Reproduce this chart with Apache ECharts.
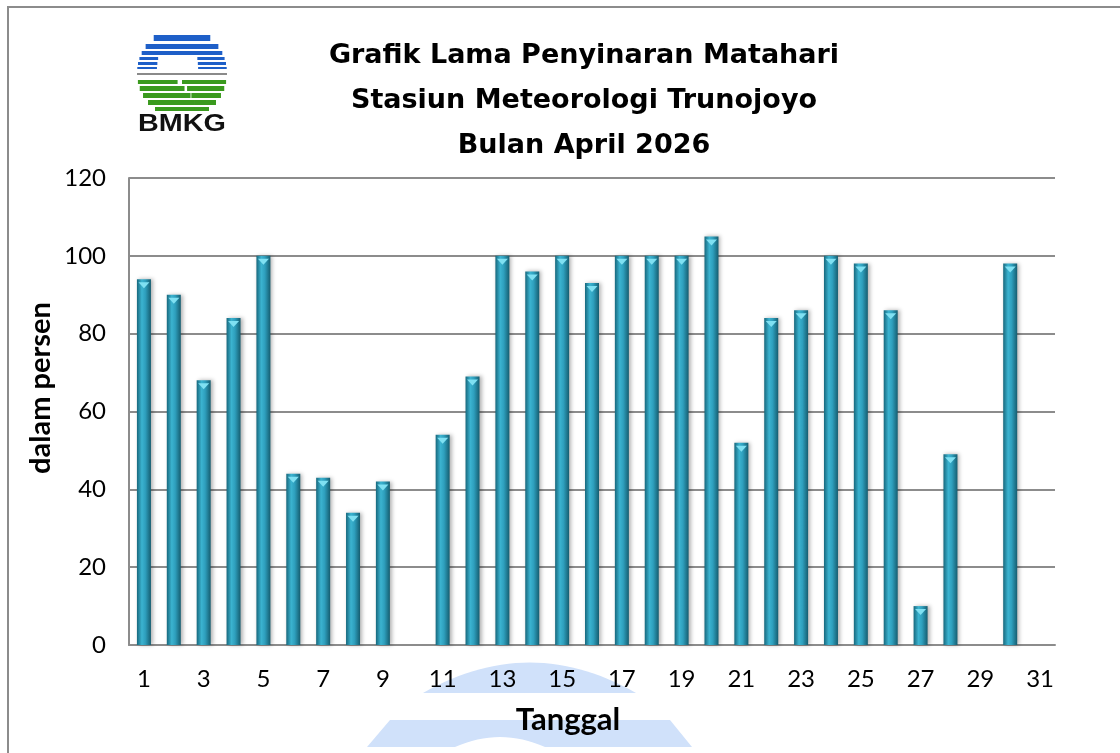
<!DOCTYPE html>
<html>
<head>
<meta charset="utf-8">
<script src="https://cdn.jsdelivr.net/npm/echarts@6/dist/echarts.min.js"></script>
<style>
  html, body { margin: 0; padding: 0; background: #fff; }
  #chart { width: 1120px; height: 753px; }
</style>
</head>
<body>
<div id="chart"></div>
<script>
const days = Array.from({ length: 31 }, (_, i) => String(i + 1));
// lama penyinaran (%) per tanggal, null = tidak ada data
const sunshine = [94, 90, 68, 84, 100, 44, 43, 34, 42, null, 54, 69, 100, 96, 100, 93,
  100, 100, 100, 105, 52, 84, 86, 100, 98, 86, 10, 49, null, 98, null];
const yTicks = [0, 20, 40, 60, 80, 100, 120];
const titleLines = ['Grafik Lama Penyinaran Matahari', 'Stasiun Meteorologi Trunojoyo', 'Bulan April 2026'];

const chart = echarts.init(document.getElementById('chart'));

const barGradient = {
  type: 'linear', x: 0, y: 0, x2: 1, y2: 0,
  colorStops: [
    { offset: 0, color: '#17687d' },
    { offset: 0.35, color: '#3bb3d0' },
    { offset: 0.6, color: '#2e9fbd' },
    { offset: 1, color: '#155d70' },
  ],
};

// logo BMKG: stripes clipped to a circle (chord widths)
const cx = 182, cy = 73, r = 45;
const chord = (y) => {
  const d = Math.abs(y - cy);
  return d >= r ? 0 : 2 * Math.sqrt(r * r - d * d);
};
const logo = [];
[[35, 6], [44, 5], [51, 4]].forEach(([y, h]) => {
  const w = chord(y + h / 2);
  logo.push({ type: 'rect', shape: { x: cx - w / 2, y, width: w, height: h }, style: { fill: '#1e5fc8' } });
});
// lower blue stripes split by cloud
[[57, 3], [62, 3], [67, 2]].forEach(([y, h]) => {
  const w = chord(y + h / 2);
  logo.push({ type: 'rect', shape: { x: cx - w / 2, y, width: w * 0.22, height: h }, style: { fill: '#1e5fc8' } });
  logo.push({ type: 'rect', shape: { x: cx + w / 2 - w * 0.32, y, width: w * 0.32, height: h }, style: { fill: '#1e5fc8' } });
});
logo.push({ type: 'rect', shape: { x: cx - r, y: 73, width: 2 * r, height: 2 }, style: { fill: '#8a8a8a' } });
[[80, 4], [86, 5], [93, 5], [100, 5], [107, 4]].forEach(([y, h], i) => {
  const w = chord(y + h / 2);
  logo.push({ type: 'rect', shape: { x: cx - w / 2, y, width: w * (0.45 + i * 0.08), height: h }, style: { fill: '#3a9a1e' } });
  logo.push({ type: 'rect', shape: { x: cx - w / 2 + w * (0.5 + i * 0.06), y, width: w * (0.5 - i * 0.06), height: h }, style: { fill: '#3a9a1e' } });
});
logo.push({
  type: 'text', x: cx, y: 125, scaleX: 1.25,
  style: { text: 'BMKG', fill: '#111', font: 'bold 23px "Liberation Sans", Arial', textAlign: 'center', textVerticalAlign: 'middle' },
});

// faint watermark shapes at the bottom
const quad = (x0, y0, qx, qy, x1, y1, n) => {
  const pts = [];
  for (let i = 0; i <= n; i++) {
    const t = i / n;
    pts.push([
      (1 - t) * (1 - t) * x0 + 2 * (1 - t) * t * qx + t * t * x1,
      (1 - t) * (1 - t) * y0 + 2 * (1 - t) * t * qy + t * t * y1,
    ]);
  }
  return pts;
};
const watermark = [
  {
    type: 'polygon', z: -1,
    shape: { points: quad(423, 693, 530, 632, 636, 693, 30) },
    style: { fill: '#d0e1fa' },
  },
  {
    type: 'polygon', z: -1,
    shape: { points: [[390, 720], [670, 720], [692, 747], [545, 747], ...quad(545, 747, 500, 727, 455, 747, 16), [367, 747]] },
    style: { fill: '#d0e1fa' },
  },
];

const labelFont = 'Lato, "Open Sans", sans-serif';

chart.setOption({
  backgroundColor: '#fff',
  animation: false,
  graphic: [
    { type: 'rect', shape: { x: 8, y: 7, width: 1130, height: 760 }, style: { fill: 'none', stroke: '#8c8c8c', lineWidth: 2 }, z: -2 },
    ...watermark,
    ...logo,
    ...titleLines.map((t, i) => ({
      type: 'text', x: 584, y: 56 + i * 45,
      style: { text: t, fill: '#000', font: 'bold 27px "Comic Sans MS", "DejaVu Sans", sans-serif', textAlign: 'center', textVerticalAlign: 'middle' },
    })),
    {
      type: 'text', x: 41, y: 388, rotation: Math.PI / 2,
      style: { text: 'dalam persen', fill: '#000', font: 'bold 29px ' + labelFont, textAlign: 'center', textVerticalAlign: 'middle' },
    },
    {
      type: 'text', x: 568, y: 720,
      style: { text: 'Tanggal', fill: '#000', font: 'bold 31px ' + labelFont, textAlign: 'center', textVerticalAlign: 'middle' },
    },
  ],
  grid: { left: 129, right: 65, top: 178, bottom: 108 },
  xAxis: {
    type: 'category',
    data: days,
    axisTick: { show: false },
    axisLine: { lineStyle: { color: '#8c8c8c', width: 2 } },
    axisLabel: { interval: 1, color: '#000', fontSize: 24, fontFamily: labelFont, margin: 22 },
  },
  yAxis: {
    type: 'value',
    min: yTicks[0],
    max: yTicks[yTicks.length - 1],
    interval: yTicks[1] - yTicks[0],
    axisLine: { show: true, lineStyle: { color: '#8c8c8c', width: 2 } },
    axisTick: { show: false },
    splitLine: { lineStyle: { color: '#8c8c8c', width: 2 } },
    axisLabel: { color: '#000', fontSize: 24, fontFamily: labelFont, margin: 23 },
  },
  series: [
    {
      type: 'bar',
      data: sunshine,
      barWidth: 14,
      itemStyle: {
        color: barGradient,
        shadowColor: 'rgba(0,0,0,0.3)',
        shadowBlur: 4,
        shadowOffsetX: 2,
      },
    },
    {
      type: 'pictorialBar',
      data: sunshine,
      symbol: 'triangle',
      symbolRotate: 180,
      symbolSize: [11, 6],
      symbolPosition: 'end',
      symbolOffset: [0, 3],
      itemStyle: { color: '#7fe0f2' },
      z: 3,
    },
  ],
});
</script>
</body>
</html>
